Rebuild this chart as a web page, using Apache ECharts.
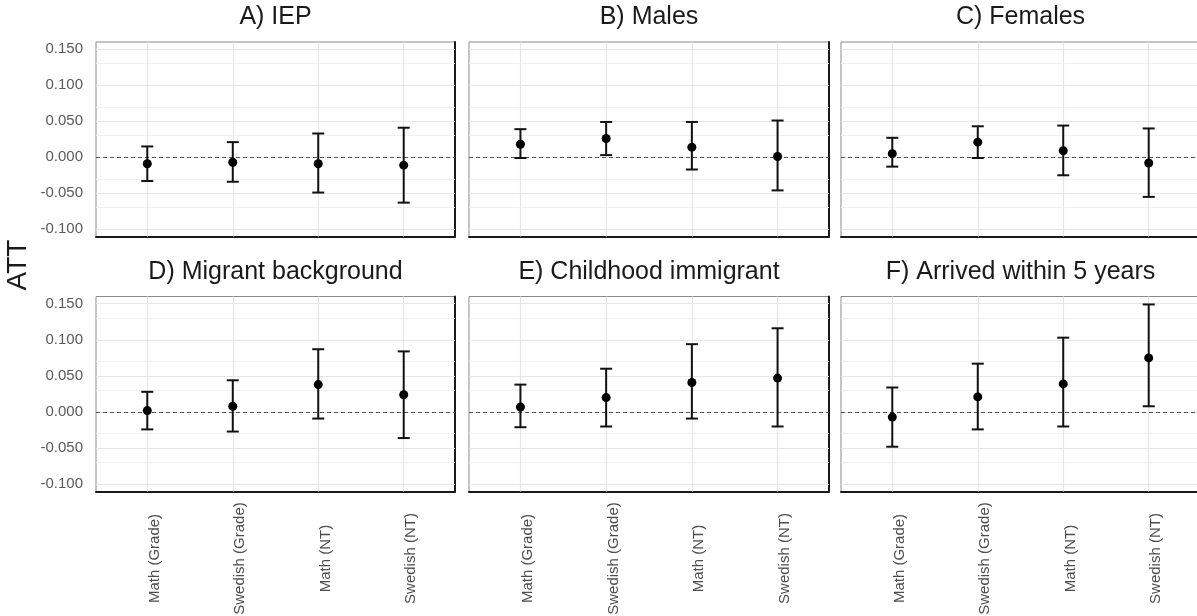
<!DOCTYPE html>
<html>
<head>
<meta charset="utf-8">
<script src="https://cdn.jsdelivr.net/npm/echarts@6/dist/echarts.min.js"></script>
<style>
  html, body { margin: 0; padding: 0; background: #ffffff; }
  #chart { width: 1197px; height: 616px; }
</style>
</head>
<body>
<div id="chart"></div>
<script>
// Outcome categories on the x axis of every panel
const categories = ['Math (Grade)', 'Swedish (Grade)', 'Math (NT)', 'Swedish (NT)'];
const yTicks = [-0.1, -0.05, 0, 0.05, 0.1, 0.15];
const yMinorTicks = [-0.075, -0.025, 0.025, 0.075, 0.125];

// Panel titles
const panelTitles = ['A) IEP', 'B) Males', 'C) Females',
  'D) Migrant background', 'E) Childhood immigrant', 'F) Arrived within 5 years'];

// ATT estimates with lower / upper confidence bounds, one array per panel
const iepEst  = [-0.009, -0.007, -0.009, -0.011];
const iepLow  = [-0.033, -0.034, -0.049, -0.063];
const iepHigh = [ 0.015,  0.021,  0.033,  0.041];

const malesEst  = [ 0.018, 0.026,  0.014,  0.001];
const malesLow  = [-0.001, 0.003, -0.017, -0.046];
const malesHigh = [ 0.039, 0.049,  0.049,  0.051];

const femalesEst  = [ 0.005,  0.021,  0.009, -0.008];
const femalesLow  = [-0.013, -0.001, -0.025, -0.055];
const femalesHigh = [ 0.027,  0.043,  0.044,  0.040];

const migrantEst  = [ 0.002,  0.008,  0.038,  0.024];
const migrantLow  = [-0.024, -0.027, -0.009, -0.036];
const migrantHigh = [ 0.028,  0.044,  0.087,  0.084];

const childEst  = [ 0.007,  0.020,  0.041,  0.047];
const childLow  = [-0.021, -0.020, -0.009, -0.020];
const childHigh = [ 0.038,  0.060,  0.094,  0.116];

const arrivedEst  = [-0.007,  0.021,  0.039, 0.075];
const arrivedLow  = [-0.048, -0.024, -0.020, 0.008];
const arrivedHigh = [ 0.034,  0.067,  0.103, 0.149];

const panels = [
  { est: iepEst, low: iepLow, high: iepHigh },
  { est: malesEst, low: malesLow, high: malesHigh },
  { est: femalesEst, low: femalesLow, high: femalesHigh },
  { est: migrantEst, low: migrantLow, high: migrantHigh },
  { est: childEst, low: childLow, high: childHigh },
  { est: arrivedEst, low: arrivedLow, high: arrivedHigh }
];

// Facet layout (pixels)
const colLeft = [96, 469, 841];
const colWidth = [359, 360, 359];
const rowTop = [42, 296.5];
const rowHeight = [194.5, 195];

const FONT = '"Liberation Sans", Arial, sans-serif';
const Y_MIN = -0.11, Y_MAX = 0.16;

const grids = [], xAxes = [], yAxes = [], series = [], graphics = [];

panels.forEach((p, i) => {
  const row = Math.floor(i / 3), col = i % 3;
  grids.push({
    left: colLeft[col], top: rowTop[row], width: colWidth[col], height: rowHeight[row],
    show: true, borderColor: '#8a8a8a', borderWidth: 1, backgroundColor: 'transparent',
    containLabel: false, outerBoundsMode: 'none'
  });
  xAxes.push({
    gridIndex: i, type: 'value', min: 0.4, max: 4.6, position: 'bottom',
    axisLine: { show: true, onZero: false, lineStyle: { color: '#1a1a1a', width: 2 } },
    axisTick: { show: false },
    splitLine: { show: false },
    axisLabel: {
      show: row === 1, customValues: [1, 2, 3, 4],
      formatter: v => categories[Math.round(v) - 1],
      rotate: 90, align: 'center', verticalAlign: 'top', margin: 67,
      color: '#4d4d4d', fontSize: 15, fontFamily: FONT
    }
  });
  yAxes.push({
    gridIndex: i, type: 'value', min: Y_MIN, max: Y_MAX, position: 'left',
    axisLine: { show: false }, axisTick: { show: false }, splitLine: { show: false },
    axisLabel: {
      show: col === 0, customValues: yTicks,
      formatter: v => v.toFixed(3), margin: 13,
      color: '#5a5a5a', fontSize: 15, fontFamily: FONT
    }
  });
  // right-hand frame edge
  yAxes.push({
    gridIndex: i, type: 'value', min: Y_MIN, max: Y_MAX, position: 'right',
    axisLine: { show: true, onZero: false, lineStyle: { color: '#1a1a1a', width: 2 } },
    axisTick: { show: false }, splitLine: { show: false }, axisLabel: { show: false }
  });
  const yIdx = i * 2;

  // grid lines and the dashed reference line at zero
  const gridLines = [];
  yMinorTicks.forEach(v => gridLines.push({ yAxis: v, lineStyle: { color: '#f0f0f0', width: 1, type: 'solid' } }));
  yTicks.forEach(v => gridLines.push({ yAxis: v, lineStyle: { color: '#e6e6e6', width: 1.2, type: 'solid' } }));
  categories.forEach((c, k) => gridLines.push({ xAxis: k + 1, lineStyle: { color: '#e6e6e6', width: 1.2, type: 'solid' } }));
  series.push({
    type: 'scatter', xAxisIndex: i, yAxisIndex: yIdx, data: [], z: 1, silent: true,
    markLine: {
      z: 1, silent: true, symbol: ['none', 'none'], label: { show: false }, animation: false,
      data: gridLines
    }
  });
  series.push({
    type: 'scatter', xAxisIndex: i, yAxisIndex: yIdx, data: [], z: 2, silent: true,
    markLine: {
      z: 2, silent: true, symbol: ['none', 'none'], label: { show: false }, animation: false,
      data: [{ yAxis: 0, lineStyle: { color: '#555555', width: 1.2, type: [4, 3] } }]
    }
  });

  // confidence intervals
  series.push({
    type: 'custom', xAxisIndex: i, yAxisIndex: yIdx, z: 6, silent: true,
    encode: { x: 0, y: [1, 2] },
    data: categories.map((c, k) => [k + 1, p.low[k], p.high[k]]),
    renderItem: (params, api) => {
      const x = api.value(0);
      const top = api.coord([x, api.value(2)]);
      const bot = api.coord([x, api.value(1)]);
      const cap = 6;
      const style = { stroke: '#111111', lineWidth: 2, fill: null };
      return {
        type: 'group',
        children: [
          { type: 'line', shape: { x1: top[0], y1: top[1], x2: bot[0], y2: bot[1] }, style },
          { type: 'line', shape: { x1: top[0] - cap, y1: top[1], x2: top[0] + cap, y2: top[1] }, style },
          { type: 'line', shape: { x1: bot[0] - cap, y1: bot[1], x2: bot[0] + cap, y2: bot[1] }, style }
        ]
      };
    }
  });

  // point estimates
  series.push({
    type: 'scatter', xAxisIndex: i, yAxisIndex: yIdx, z: 7, silent: true,
    symbol: 'circle', symbolSize: 9,
    itemStyle: { color: '#000000', opacity: 1 },
    data: categories.map((c, k) => [k + 1, p.est[k]])
  });

  // facet title
  graphics.push({
    type: 'text', x: colLeft[col] + colWidth[col] / 2, y: row === 0 ? 17 : 272,
    style: { text: panelTitles[i], fill: '#1a1a1a', font: '25px ' + FONT, align: 'center', verticalAlign: 'middle' }
  });
});

// shared y-axis title
graphics.push({
  type: 'text', x: 18, y: 265, rotation: Math.PI / 2,
  style: { text: 'ATT', fill: '#1a1a1a', font: '28px ' + FONT, align: 'center', verticalAlign: 'middle' }
});

const chart = echarts.init(document.getElementById('chart'), null, { renderer: 'canvas' });
chart.setOption({
  animation: false,
  backgroundColor: '#ffffff',
  grid: grids,
  xAxis: xAxes,
  yAxis: yAxes,
  series: series,
  graphic: graphics
});
</script>
</body>
</html>
